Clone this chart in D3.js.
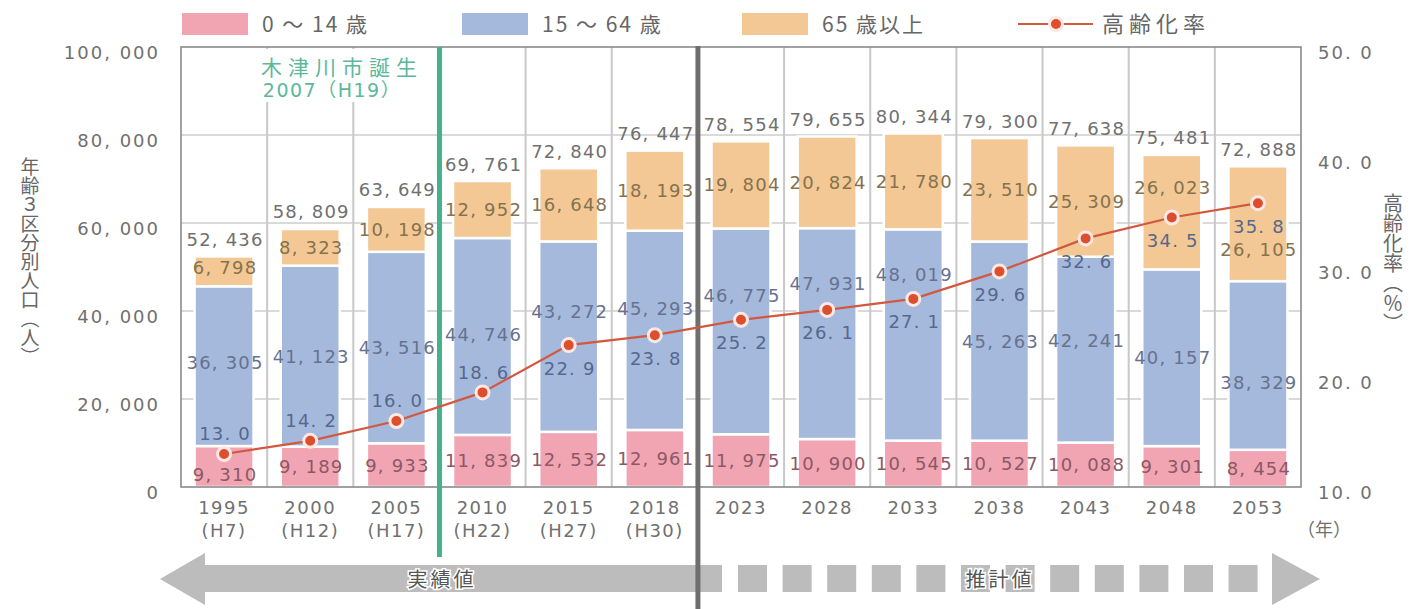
<!DOCTYPE html>
<html><head><meta charset="utf-8">
<script src="https://cdn.jsdelivr.net/npm/d3@7"></script>
<style>
html,body{margin:0;padding:0;background:#fff;}
svg{display:block;}
.num{font-family:"DejaVu Sans","Noto Sans CJK JP",sans-serif;}
.jp{font-family:"Noto Sans CJK JP",sans-serif;}
</style></head><body>
<svg id="chart" width="1412" height="609"></svg>
<script>
// ---- data ----
const years = ["1995","2000","2005","2010","2015","2018","2023","2028","2033","2038","2043","2048","2053"];
const eras = ["(H7)","(H12)","(H17)","(H22)","(H27)","(H30)","","","","","","",""];
const age0_14 = [9310,9189,9933,11839,12532,12961,11975,10900,10545,10527,10088,9301,8454];
const age15_64 = [36305,41123,43516,44746,43272,45293,46775,47931,48019,45263,42241,40157,38329];
const age65 = [6798,8323,10198,12952,16648,18193,19804,20824,21780,23510,25309,26023,26105];
const totals = [52436,58809,63649,69761,72840,76447,78554,79655,80344,79300,77638,75481,72888];
const agingRate = [13.0,14.2,16.0,18.6,22.9,23.8,25.2,26.1,27.1,29.6,32.6,34.5,35.8];
const leftTicks = [0,20000,40000,60000,80000,100000];
const rightTicks = [10,20,30,40,50];
const seriesNames = ["0 ～ 14 歳","15 ～ 64 歳","65 歳以上"];
const lineName = "高齢化率";

// ---- label placement nudges (px) ----
const pinkNudge  = [8,0,0,0,0,0,0,0,0,0,0,0,0];
const blueNudge  = [-4,0,0,-2,-25,-22,-36,-50,-60,0,-9,0,17];
const orangeNudge= [-4,0,0,0,0,0,0,0,0,0,0,-25,26];
const rateBelow  = [false,false,false,false,true,true,true,true,true,true,true,true,true];

const colors = ["#f1a5b3","#a5b9dc","#f3c894"];
const labelColors = ["#8c5866","#67728e","#85724f"];

const svg = d3.select("#chart");
const L=181,R=1301,T=47,B=487;
const x = d3.scaleBand().domain(years).range([L,R]).paddingInner(0.315).paddingOuter(0.1575);
const y = d3.scaleLinear().domain([0,100000]).range([B,T]);
const y2 = d3.scaleLinear().domain([10,50]).range([B,T]);
const step = x.step();
const bw = x.bandwidth();
const cx = d => x(d)+bw/2;
const fmtN = v => d3.format(",")(v).replace(/,/g,", ");
const fmtR = v => d3.format(".1f")(v).replace(".",". ");

// gridlines
svg.append("g").selectAll("line").data(leftTicks.filter(t=>t>0&&t<100000)).join("line")
  .attr("x1",L).attr("x2",R).attr("y1",d=>y(d)).attr("y2",d=>y(d))
  .attr("stroke","#b4b4b4").attr("stroke-width",1);

// vertical separators
const bounds = years.slice(1).map(d=>x(d)-step*0.315/2);
svg.append("g").selectAll("line").data(bounds).join("line")
  .attr("x1",d=>d).attr("x2",d=>d).attr("y1",T).attr("y2",B)
  .attr("stroke","#c8c8c8").attr("stroke-width",2);

// stacked bars
const stackData = years.map((yr,i)=>({year:yr,a:age0_14[i],b:age15_64[i],c:age65[i]}));
const stack = d3.stack().keys(["a","b","c"])(stackData);
svg.append("g").selectAll("g").data(stack).join("g")
  .attr("fill",(d,i)=>colors[i])
  .selectAll("rect").data(d=>d).join("rect")
  .attr("x",d=>x(d.data.year)).attr("width",bw)
  .attr("y",d=>y(d[1])).attr("height",d=>y(d[0])-y(d[1]))
  .attr("stroke","#fff").attr("stroke-width",2.5);

// annotation background + text
svg.append("rect").attr("x",x("2000")-18).attr("y",T+2).attr("width",190).attr("height",53).attr("fill","#fff");
const ann = svg.append("text").attr("class","jp").attr("fill","#5bb89a").attr("font-size",21).attr("text-anchor","middle");
ann.append("tspan").attr("x",342).attr("y",75).attr("letter-spacing",6).text("木津川市誕生");
ann.append("tspan").attr("x",332).attr("y",97).attr("class","num").attr("font-size",19).attr("letter-spacing",1.5).text("2007（H19）");

// frame
svg.append("rect").attr("x",L).attr("y",T).attr("width",R-L).attr("height",B-T)
  .attr("fill","none").attr("stroke","#8a8a8a").attr("stroke-width",1.6);

// vertical markers
const boundary2010 = x("2010")-step*0.315/2;
const boundary2023 = x("2023")-step*0.315/2;
svg.append("line").attr("x1",boundary2010).attr("x2",boundary2010).attr("y1",T).attr("y2",557)
  .attr("stroke","#45b08c").attr("stroke-width",5);

// bottom arrow
const ag = svg.append("g").attr("fill","#bcbcbc");
ag.append("path").attr("d","M160,579 L205,553 L205,565 L722,565 L722,592 L205,592 L205,605 Z");
d3.range(12).forEach(k=>{
  ag.append("rect").attr("x",738+k*44.6).attr("y",565).attr("width",29).attr("height",27);
});
ag.append("path").attr("d","M1272,553 L1320,579 L1272,605 Z");
svg.append("line").attr("x1",boundary2023).attr("x2",boundary2023).attr("y1",T-1).attr("y2",609)
  .attr("stroke","#6e6e6e").attr("stroke-width",5);
svg.append("text").attr("class","jp").attr("x",442).attr("y",587).attr("text-anchor","middle")
  .attr("font-size",20).attr("letter-spacing",3).attr("fill","#555")
  .attr("stroke","#fff").attr("stroke-width",3).attr("paint-order","stroke").text("実績値");
svg.append("text").attr("class","jp").attr("x",1000).attr("y",587).attr("text-anchor","middle")
  .attr("font-size",20).attr("letter-spacing",3).attr("fill","#555")
  .attr("stroke","#fff").attr("stroke-width",3).attr("paint-order","stroke").text("推計値");

// left axis
const ax = svg.append("g").attr("transform",`translate(${L},0)`)
  .call(d3.axisLeft(y).tickValues(leftTicks).tickFormat(fmtN).tickSize(0).tickPadding(21));
ax.select(".domain").remove();
ax.selectAll("text").attr("class","num").attr("font-size",18).attr("letter-spacing",2).attr("fill","#707070").attr("dy","0.65em");

// right axis
const ax2 = svg.append("g").attr("transform",`translate(${R},0)`)
  .call(d3.axisRight(y2).tickValues(rightTicks).tickFormat(fmtR).tickSize(0).tickPadding(17));
ax2.select(".domain").remove();
ax2.selectAll("text").attr("class","num").attr("font-size",18).attr("letter-spacing",2).attr("fill","#707070").attr("dy","0.65em");

// bottom axis
const ax3 = svg.append("g").attr("transform",`translate(0,${B})`)
  .call(d3.axisBottom(x).tickSize(0).tickPadding(0).tickFormat(""));
ax3.select(".domain").remove();
ax3.selectAll(".tick text").each(function(d,i){
  const t = d3.select(this).attr("class","num").attr("font-size",18).attr("letter-spacing",1.5).attr("fill","#707070").attr("dy",null);
  t.append("tspan").attr("x",0).attr("y",27).text(d);
  if(eras[i]) t.append("tspan").attr("x",0).attr("y",50).text(eras[i]);
});
svg.append("text").attr("class","jp").attr("x",1324).attr("y",536).attr("text-anchor","middle")
  .attr("font-size",18).attr("fill","#707070").text("（年）");

// axis titles (vertical)
svg.append("text").attr("class","jp").attr("x",30).attr("y",157)
  .attr("font-size",19).attr("fill","#666")
  .style("writing-mode","vertical-rl").style("text-orientation","mixed")
  .text("年齢３区分別人口（人）");
svg.append("text").attr("class","jp").attr("x",1393).attr("y",193)
  .attr("font-size",20).attr("fill","#666")
  .style("writing-mode","vertical-rl").style("text-orientation","mixed")
  .text("高齢化率（％）");

// rate line
const line = d3.line().x((d,i)=>cx(years[i])).y(d=>y2(d));
svg.append("path").datum(agingRate).attr("d",line).attr("fill","none").attr("stroke","#d2583f").attr("stroke-width",2.2);
svg.append("g").selectAll("circle").data(agingRate).join("circle")
  .attr("cx",(d,i)=>cx(years[i])).attr("cy",d=>y2(d)).attr("r",6.5)
  .attr("fill","#dd4e2e").attr("stroke","#fde8e4").attr("stroke-width",3);

// value labels
const lab = svg.append("g").attr("class","num").attr("font-size",18).attr("letter-spacing",1.2).attr("text-anchor","middle");
stackData.forEach((d,i)=>{
  const X = cx(d.year)+1;
  const y0=y(0), y1=y(d.a), y2p=y(d.a+d.b), y3=y(d.a+d.b+d.c);
  lab.append("text").attr("x",X).attr("y",(y0+y1)/2+pinkNudge[i]).attr("dy","0.36em").attr("fill",labelColors[0]).text(fmtN(d.a));
  lab.append("text").attr("x",X).attr("y",(y1+y2p)/2+blueNudge[i]).attr("dy","0.36em").attr("fill",labelColors[1]).text(fmtN(d.b));
  lab.append("text").attr("x",X).attr("y",(y2p+y3)/2+orangeNudge[i]).attr("dy","0.36em").attr("fill",labelColors[2]).text(fmtN(d.c));
  lab.append("text").attr("x",X).attr("y",y3-17).attr("dy","0.36em").attr("fill","#707070").text(fmtN(totals[i]));
  lab.append("text").attr("x",X).attr("y",y2(agingRate[i])+(rateBelow[i]?23:-20)).attr("dy","0.36em").attr("fill","#55688e").text(fmtR(agingRate[i]));
});

// legend
const lg = svg.append("g");
const legX = [182,462,742];
seriesNames.forEach((n,i)=>{
  lg.append("rect").attr("x",legX[i]).attr("y",13).attr("width",66).attr("height",22).attr("fill",colors[i]);
  lg.append("text").attr("class","jp").attr("x",legX[i]+80).attr("y",32).attr("font-size",21).attr("letter-spacing",2).attr("fill","#666").text(n);
});
lg.append("line").attr("x1",1018).attr("x2",1093).attr("y1",24).attr("y2",24).attr("stroke","#d2583f").attr("stroke-width",2.2);
lg.append("circle").attr("cx",1056).attr("cy",24).attr("r",6.5).attr("fill","#dd4e2e").attr("stroke","#fde8e4").attr("stroke-width",3);
lg.append("text").attr("class","jp").attr("x",1102).attr("y",32).attr("font-size",22).attr("letter-spacing",5).attr("fill","#666").text(lineName);
</script>
</body></html>
